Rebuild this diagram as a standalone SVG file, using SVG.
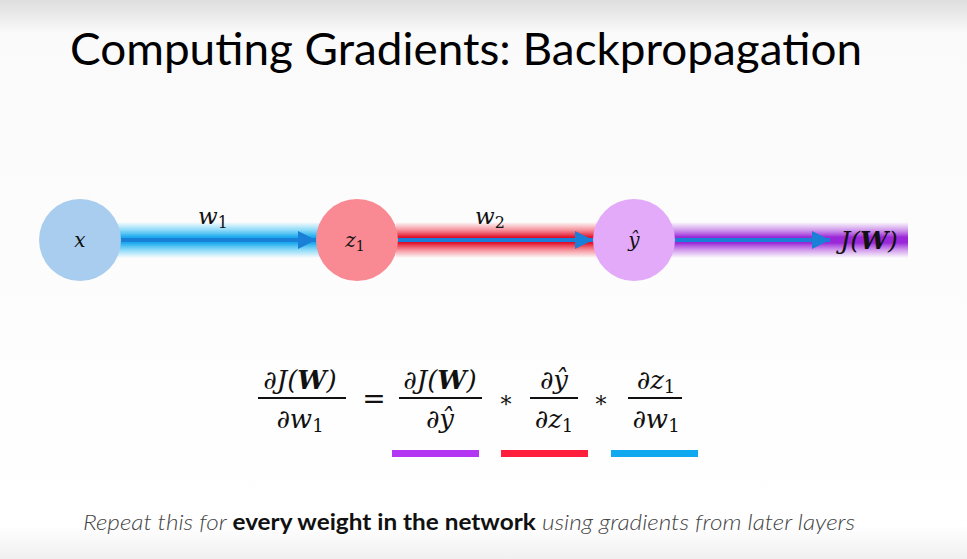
<svg xmlns="http://www.w3.org/2000/svg" width="967" height="559" viewBox="0 0 967 559">
<defs>
<linearGradient id="bg" x1="0" y1="0" x2="0" y2="1">
<stop offset="0" stop-color="#dedede"/>
<stop offset="0.06" stop-color="#fafafa"/>
<stop offset="0.94" stop-color="#ffffff"/>
<stop offset="1" stop-color="#f0f0f0"/>
</linearGradient>
<linearGradient id="gBlue" x1="0" y1="0" x2="0" y2="1">
<stop offset="0" stop-color="#35c0f5" stop-opacity="0"/>
<stop offset="0.2" stop-color="#35c0f5" stop-opacity="0.5"/>
<stop offset="0.42" stop-color="#1aa8ee"/>
<stop offset="0.58" stop-color="#1aa8ee"/>
<stop offset="0.8" stop-color="#35c0f5" stop-opacity="0.5"/>
<stop offset="1" stop-color="#35c0f5" stop-opacity="0"/>
</linearGradient>
<linearGradient id="gRed" x1="0" y1="0" x2="0" y2="1">
<stop offset="0" stop-color="#f04050" stop-opacity="0"/>
<stop offset="0.2" stop-color="#f04050" stop-opacity="0.5"/>
<stop offset="0.42" stop-color="#e0102a"/>
<stop offset="0.58" stop-color="#e0102a"/>
<stop offset="0.8" stop-color="#f04050" stop-opacity="0.5"/>
<stop offset="1" stop-color="#f04050" stop-opacity="0"/>
</linearGradient>
<linearGradient id="gPurple" x1="0" y1="0" x2="0" y2="1">
<stop offset="0" stop-color="#b050e0" stop-opacity="0"/>
<stop offset="0.2" stop-color="#b050e0" stop-opacity="0.5"/>
<stop offset="0.42" stop-color="#9a28d8"/>
<stop offset="0.58" stop-color="#9a28d8"/>
<stop offset="0.8" stop-color="#b050e0" stop-opacity="0.5"/>
<stop offset="1" stop-color="#b050e0" stop-opacity="0"/>
</linearGradient>
<marker id="ah" viewBox="0 0 10 10" refX="10" refY="5" markerWidth="4.5" markerHeight="4.5" orient="auto" markerUnits="strokeWidth">
<path d="M0,0 L10,5 L0,10 z" fill="#1a7fd6"/>
</marker>
<style>
.math{font-family:"DejaVu Serif","Liberation Serif",serif;font-style:italic;fill:#111;}
.up{font-family:"DejaVu Serif","Liberation Serif",serif;fill:#111;}
.core{stroke:#1a7fd6;stroke-width:4;fill:none;}
.frac{stroke:#111;stroke-width:1.8;}
</style>
</defs>
<rect width="967" height="559" fill="url(#bg)"/>
<text x="70" y="65" font-family="Lato, 'Open Sans', sans-serif" font-size="44" fill="#000" textLength="792" lengthAdjust="spacingAndGlyphs">Computing Gradients: Backpropagation</text>

<g id="connectors">
<rect x="118" y="222" width="202" height="36" fill="url(#gBlue)"/>
<line class="core" x1="120" y1="240" x2="316" y2="240" marker-end="url(#ah)"/>
<rect x="396" y="222" width="202" height="36" fill="url(#gRed)"/>
<line class="core" x1="398" y1="240" x2="593" y2="240" marker-end="url(#ah)"/>
<rect x="672" y="222" width="236" height="36" fill="url(#gPurple)"/>
<line class="core" x1="675" y1="240" x2="830" y2="240" marker-end="url(#ah)"/>
<text class="math" x="213" y="224" font-size="23" text-anchor="middle">w<tspan font-style="normal" font-size="16" dy="4">1</tspan></text>
<text class="math" x="490" y="224" font-size="23" text-anchor="middle">w<tspan font-style="normal" font-size="16" dy="4">2</tspan></text>
</g>

<g id="node-x">
<circle cx="80" cy="240" r="41" fill="#a9cdee"/>
<text class="math" x="80" y="247" font-size="20" text-anchor="middle">x</text>
</g>
<g id="node-z1">
<circle cx="357" cy="240" r="41" fill="#f98a93"/>
<text class="math" x="355" y="247" font-size="20" text-anchor="middle">z<tspan font-style="normal" font-size="14" dy="4">1</tspan></text>
</g>
<g id="node-yhat">
<circle cx="634" cy="240" r="41" fill="#e2aaf8"/>
<text class="math" x="634" y="247" font-size="20" text-anchor="middle">ŷ</text>
</g>
<g id="node-J">
<text class="math" x="869" y="249" font-size="25" text-anchor="middle">J(<tspan font-weight="bold">W</tspan>)</text>
</g>

<g id="equation">
<text class="math" x="300" y="389" font-size="26" text-anchor="middle">∂J(<tspan font-weight="bold">W</tspan>)</text>
<line class="frac" x1="258" y1="398" x2="346" y2="398"/>
<text class="math" x="300" y="428" font-size="26" text-anchor="middle">∂w<tspan font-style="normal" font-size="18" dy="4">1</tspan></text>
<text class="up" x="374" y="408" font-size="28" text-anchor="middle">=</text>
<text class="math" x="440" y="389" font-size="26" text-anchor="middle">∂J(<tspan font-weight="bold">W</tspan>)</text>
<line class="frac" x1="399" y1="398" x2="482" y2="398"/>
<text class="math" x="440" y="428" font-size="26" text-anchor="middle">∂ŷ</text>
<text class="up" x="506" y="412" font-size="22" text-anchor="middle">*</text>
<text class="math" x="554" y="389" font-size="26" text-anchor="middle">∂ŷ</text>
<line class="frac" x1="530" y1="398" x2="578" y2="398"/>
<text class="math" x="554" y="428" font-size="26" text-anchor="middle">∂z<tspan font-style="normal" font-size="18" dy="4">1</tspan></text>
<text class="up" x="601" y="412" font-size="22" text-anchor="middle">*</text>
<text class="math" x="656" y="389" font-size="26" text-anchor="middle">∂z<tspan font-style="normal" font-size="18" dy="4">1</tspan></text>
<line class="frac" x1="628" y1="398" x2="682" y2="398"/>
<text class="math" x="656" y="428" font-size="26" text-anchor="middle">∂w<tspan font-style="normal" font-size="18" dy="4">1</tspan></text>
<rect x="392" y="450" width="87" height="7" fill="#b236f2"/>
<rect x="501" y="450" width="87" height="7" fill="#ff1e3c"/>
<rect x="611" y="450" width="87" height="7" fill="#10a8ee"/>
</g>

<text x="83" y="530" font-family="Lato, 'Open Sans', sans-serif" font-size="22" font-style="italic" fill="#444" font-weight="300" textLength="772" lengthAdjust="spacingAndGlyphs">Repeat this for <tspan font-weight="bold" font-style="normal" fill="#111">every weight in the network</tspan> using gradients from later layers</text>
</svg>
